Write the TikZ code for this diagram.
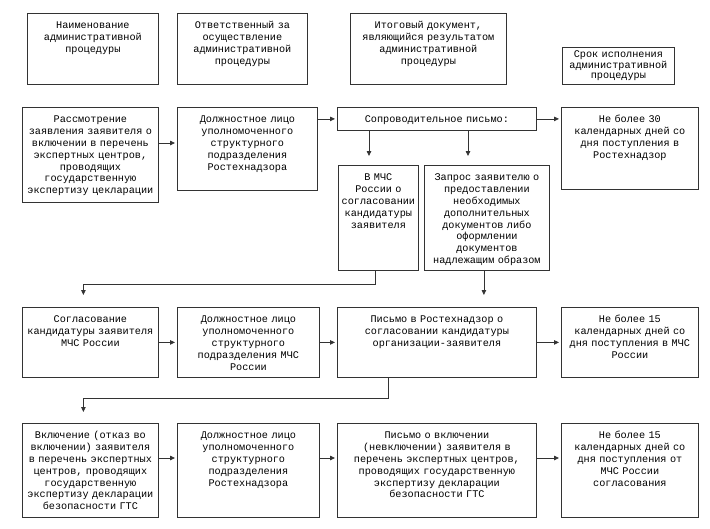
\documentclass[tikz,border=0pt]{standalone}
\usepackage{fontspec}
\newfontfamily\cellfont{Liberation Mono}
\usetikzlibrary{arrows.meta}

\begin{document}
\begin{tikzpicture}[x=1pt, y=-1pt,
        cell/.style 2 args={draw=black!80, line width=0.8pt, anchor=north west, align=center,
            font=\cellfont\fontsize{10.2}{11.9}\selectfont, inner xsep=1pt, inner ysep=0pt,
            text width=#1, text height=15pt, text depth=#2},
        link/.style={draw=black!80, line width=0.8pt, shorten >=2pt,
            -{Triangle[length=5pt,width=4.5pt]}}]
    \useasboundingbox (0,0) rectangle (710,528);

    \node[cell={129pt}{56pt}] (a0) at (27,13) {Наименование\\административной\\процедуры};
    \node[cell={128pt}{56pt}] (b0) at (177,13) {Ответственный за\\осуществление\\административной\\процедуры};
    \node[cell={154pt}{56pt}] (c0) at (350,13) {Итоговый документ,\\являющийся результатом\\административной\\процедуры};
    \node[cell={110pt}{27pt}, text height=10pt, font=\cellfont\fontsize{10.2}{10.6}\selectfont] (d0) at (562,47) {Срок исполнения\\административной\\процедуры};

    \node[cell={134pt}{80pt}] (a1) at (22,107) {Рассмотрение\\заявления заявителя о\\включении в перечень\\экспертных центров,\\проводящих\\государственную\\экспертизу цекларации};
    \node[cell={138pt}{68pt}] (b1) at (177,107) {Должностное лицо\\уполномоченного\\структурного\\подразделения\\Ростехнадзора};
    \node[cell={197pt}{8pt}] (c1) at (337,107) {Сопроводительное письмо:};
    \node[cell={135pt}{67pt}] (d1) at (561,107) {Не более 30\\календарных дней со\\дня поступления в\\Ростехнадзор};
    \node[cell={78pt}{90pt}] (e1) at (338,165) {В МЧС\\России о\\согласовании\\кандидатуры\\заявителя};
    \node[cell={123pt}{90pt}] (f1) at (424,165) {Запрос заявителю о\\предоставлении\\необходимых\\дополнительных\\документов либо\\оформлении\\документов\\надлежащим образом};

    \node[cell={134pt}{55pt}] (a2) at (22,307) {Согласование\\кандидатуры заявителя\\МЧС России};
    \node[cell={140pt}{55pt}] (b2) at (177,307) {Должностное лицо\\уполномоченного\\структурного\\подразделения МЧС\\России};
    \node[cell={197pt}{55pt}] (c2) at (337,307) {Письмо в Ростехнадзор о\\согласовании кандидатуры\\организации-заявителя};
    \node[cell={135pt}{55pt}] (d2) at (561,307) {Не более 15\\календарных дней со\\дня поступления в МЧС\\России};

    \node[cell={134pt}{79pt}] (a3) at (22,423) {Включение (отказ во\\включении) заявителя\\в перечень экспертных\\центров, проводящих\\государственную\\экспертизу декларации\\безопасности ГТС};
    \node[cell={140pt}{79pt}] (b3) at (177,423) {Должностное лицо\\уполномоченного\\структурного\\подразделения\\Ростехнадзора};
    \node[cell={197pt}{79pt}] (c3) at (337,423) {Письмо о включении\\(невключении) заявителя в\\перечень экспертных центров,\\проводящих государственную\\экспертизу декларации\\безопасности ГТС};
    \node[cell={135pt}{79pt}] (d3) at (561,423) {Не более 15\\календарных дней со\\дня поступления от\\МЧС России\\согласования};

    \draw[link] ([yshift=-36pt]a1.north east) -- ([yshift=-36pt]b1.north west);
    \draw[link] (b1.east |- c1.west) -- (c1.west);
    \draw[link] (c1.east) -- (d1.west |- c1.east);
    \draw[link, shorten >=9pt] ([xshift=32pt]c1.south west) -- ([xshift=32pt]c1.south west |- e1.north);
    \draw[link, shorten >=9pt] ([xshift=131pt]c1.south west) -- ([xshift=131pt]c1.south west |- f1.north);
    \draw[link, shorten >=12pt] ([xshift=-3pt]e1.south) -- ++(0,14) -| ([xshift=-7pt]a2.north);
    \draw[link, shorten >=12pt] ([xshift=-3pt]f1.south) -- ([xshift=-3pt]f1.south |- c2.north);

    \draw[link] (a2.east) -- (b2.west);
    \draw[link] (b2.east) -- (c2.west);
    \draw[link] (c2.east) -- (d2.west);
    \draw[link, shorten >=11pt] ([xshift=51pt]c2.south west) -- ++(0,21) -| ([xshift=-7pt]a3.north);

    \draw[link] ([yshift=-35pt]a3.north east) -- ([yshift=-35pt]b3.north west);
    \draw[link] ([yshift=-35pt]b3.north east) -- ([yshift=-35pt]c3.north west);
    \draw[link] ([yshift=-35pt]c3.north east) -- ([yshift=-35pt]d3.north west);
\end{tikzpicture}
\end{document}
